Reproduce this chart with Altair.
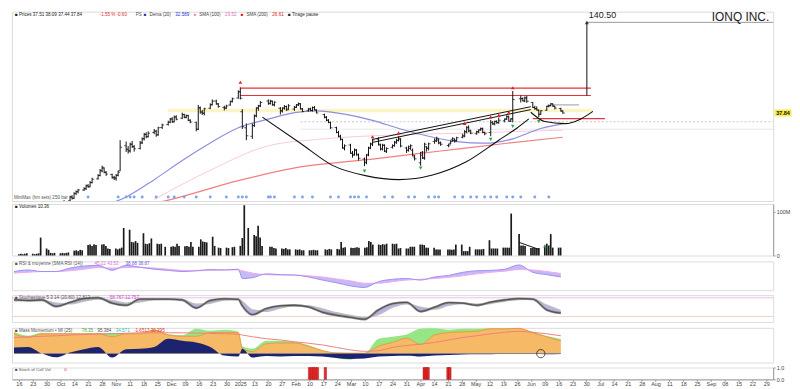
import altair as alt
import pandas as pd

# ---------------- data ----------------
HOLIDAYS = ["2024-11-28", "2024-12-25", "2025-01-01", "2025-01-09", "2025-01-20",
            "2025-02-17", "2025-04-18", "2025-05-26"]

OPEN = [7.6,7.9,8.0,7.8,8.2, 8.1,8.3,8.6,8.5,8.9, 8.7,8.7,8.4,8.5,8.8, 9.1,9.3,9.6,9.9,10.1,
        10.6,11.2,11.0,11.8,12.1, 12.4,12.6,13.2,13.0,13.8, 14.6,15.3,16.4,17.0,16.0,
        15.5,14.9,14.8,15.4,16.4, 23.5,22.3,21.9,24.0,23.2, 22.6,24.5,26.0,27.7,26.9,
        28.5,29.0,27.6,30.6, 32.0,33.2,34.6,33.3,35.6, 35.0,37.0,35.6,36.4,34.0,
        33.0,30.0,40.5,38.0,37.5, 40.5,42.8,45.0,43.0, 41.0,40.8,42.5,44.8, 47.0,51.5,38.5,30.5,
        27.0,31.5,36.5,40.8,42.0, 45.0,43.5,44.8,42.5, 40.5,39.2,40.5,41.6,40.0,
        40.0,41.2,42.5,43.0,40.0, 39.0,40.0,39.2,41.0,39.6, 37.0,35.6,34.0,33.0,
        30.6,28.5,27.0,25.8,22.8, 23.8,21.0,20.8,22.0,20.6, 19.4,18.6,20.8,22.8,24.0,
        25.8,23.8,22.4,23.6,21.6, 23.0,23.6,24.6,25.4,25.8, 22.8,22.0,22.6,22.0,20.0,
        18.4,21.4,19.6,23.2,22.6, 25.0,25.2,25.6,24.6, 23.6,24.4,25.8,25.4,25.4,
        26.6,27.0,28.8,30.8,29.4, 28.0,28.8,29.6,30.2,28.6, 28.5,33.0,32.4,33.4,32.8,
        33.8,34.6,35.8,33.6,34.6, 46.5,46.6,45.0,47.2, 44.0,41.0,40.4,39.4,37.2,
        39.4,41.8,42.2,43.0,41.6, 40.4,38.8]
HIGH = [8.0,8.2,8.1,8.3,8.4, 8.5,8.8,8.8,9.1,9.3, 8.9,8.8,8.7,8.9,9.3, 9.5,9.8,10.0,10.3,10.7,
        11.4,11.5,12.0,12.3,12.6, 12.9,13.4,13.5,14.1,14.8, 15.6,16.8,17.6,17.2,16.3,
        15.7,15.2,15.6,16.4,25.5, 25.0,23.4,24.6,25.2,23.8, 25.2,26.5,28.3,28.6,29.0,
        30.0,29.6,31.0,32.4, 33.8,35.2,35.6,36.4,36.6, 38.0,37.4,37.0,36.8,34.5,
        33.4,42.5,41.5,39.5,40.8, 43.5,46.0,45.8,43.6, 42.0,42.6,45.2,47.2, 52.5,54.8,40.0,32.5,
        32.5,37.0,41.0,42.5,45.0, 46.0,45.8,45.2,44.8, 41.2,41.0,42.4,42.0,43.0,
        41.8,43.0,44.0,43.6,40.6, 40.6,40.8,41.5,41.8,39.8, 37.4,36.2,34.6,33.4,
        31.0,29.2,27.6,26.0,24.0, 24.2,21.8,22.6,22.4,21.0, 19.8,20.8,23.2,24.6,26.0,
        26.6,24.2,24.2,24.0,23.0, 24.0,25.2,26.0,27.0,26.2, 23.2,23.6,24.0,22.6,20.6,
        21.5,21.8,24.6,23.4,24.6, 26.2,26.8,26.0,25.0, 24.2,25.4,26.6,26.2,26.8,
        28.0,29.5,31.2,31.6,29.6, 29.2,29.8,30.6,30.6,28.8, 34.2,33.6,33.8,34.0,35.4,
        35.0,36.6,36.4,35.0,52.0, 48.7,47.4,48.0,48.4, 44.4,42.0,41.6,39.8,39.4,
        42.0,42.8,43.6,43.4,41.8, 40.8,39.2]
LOW = [7.5,7.7,7.7,7.7,7.9, 8.0,8.2,8.3,8.4,8.5, 8.5,8.3,8.2,8.4,8.7, 9.0,9.2,9.5,9.7,10.0,
       10.5,10.8,10.9,11.5,11.8, 12.2,12.4,12.8,12.9,13.6, 14.4,15.1,16.0,15.8,15.2,
       14.6,14.3,14.2,15.1,16.3, 21.5,21.0,21.3,22.8,21.6, 22.3,24.1,25.4,26.2,26.5,
       27.8,26.8,27.2,30.0, 31.5,32.6,32.8,33.0,34.0, 34.6,35.0,35.0,33.6,32.6,
       29.0,29.5,37.5,36.8,36.5, 40.0,42.2,42.6,40.8, 39.2,40.0,42.0,44.0, 46.5,46.0,30.0,25.5,
       26.0,30.8,35.5,39.0,41.2, 42.6,42.8,42.0,41.6, 37.0,38.0,39.6,39.0,39.5,
       39.0,40.6,41.8,39.8,38.2, 38.5,38.8,38.6,39.4,37.6, 35.0,33.6,32.6,30.0,
       28.2,26.6,25.4,22.5,22.0, 21.0,19.8,20.4,20.4,19.0, 17.5,18.0,20.2,22.4,23.4,
       23.6,22.0,22.0,21.5,21.2, 22.6,23.2,24.2,25.0,23.0, 21.2,21.6,22.2,20.2,19.0,
       17.6,19.4,19.2,21.6,22.0, 24.2,24.8,24.0,23.5, 23.0,24.0,25.0,24.6,25.0,
       26.2,26.6,28.2,28.6,27.8, 27.6,28.2,29.2,28.2,27.4, 27.0,31.8,31.6,32.4,32.4,
       33.0,34.2,33.4,33.2,33.0, 44.0,44.8,44.2,43.8, 40.6,39.6,39.2,35.6,36.8,
       39.0,41.0,41.6,41.4,39.8, 38.6,37.4]
CLOSE = [7.9,8.0,7.8,8.2,8.1, 8.3,8.6,8.5,8.9,8.7, 8.7,8.4,8.5,8.8,9.1, 9.3,9.6,9.9,10.1,10.5,
         11.2,11.0,11.8,12.1,12.4, 12.6,13.2,13.0,13.8,14.5, 15.3,16.4,17.2,16.0,15.6,
         14.8,14.6,15.3,16.0,23.0, 22.4,21.8,24.0,23.2,22.5, 24.6,26.0,27.8,26.8,28.2,
         29.0,27.5,30.5,31.8, 33.0,34.6,33.2,35.8,34.5, 37.0,35.5,36.5,34.0,33.2,
         29.8,41.0,38.5,37.8,40.2, 42.5,44.8,43.2,41.6, 40.5,41.8,44.5,46.5, 51.5,46.8,31.0,27.2,
         31.5,36.0,40.5,41.8,44.0, 43.2,45.0,42.8,44.2, 38.8,40.6,41.5,39.5,42.0,
         41.0,42.6,43.3,40.2,38.6, 40.0,39.2,41.0,39.5,37.8, 35.5,34.0,33.0,30.5,
         28.5,27.0,25.8,22.8,23.5, 21.2,20.5,22.2,20.8,19.6, 18.4,20.5,22.8,24.2,25.6,
         24.0,22.5,23.8,21.8,22.6, 23.5,24.8,25.5,26.2,23.4, 22.0,23.2,23.5,20.5,19.5,
         20.5,19.8,24.0,22.8,24.2, 25.5,26.2,24.5,24.0, 23.8,25.0,26.0,25.2,26.4,
         27.2,28.8,30.5,29.0,28.2, 28.8,29.5,30.0,28.5,28.0, 33.0,32.2,33.5,32.8,34.0,
         34.5,35.8,33.5,34.8,46.0, 46.5,45.2,47.0,44.8, 41.0,40.2,39.5,37.0,39.0,
         41.5,42.0,43.2,42.0,40.6, 39.0,37.84]
VOLUME_M = [3,4,3,4,5, 4,3,4,5,41, 16,13,6,5,6, 5,6,5,6,7, 11,12,10,13,12, 24,25,22,26,24,
            25,26,22,16,15, 16,14,16,18,63, 59,31,30,33,29, 51,27,26,28,39, 27,26,27,20,
            20,21,20,27,22, 21,22,20,31,20, 20,37,32,31,30, 43,22,18,17, 18,17,19,20,
            22,40,115,63, 47,44,68,41,22, 20,20,17,16, 16,15,17,14,14, 14,13,14,12,12,
            12,12,13,12,12, 14,13,15,14, 15,14,31,18,19, 18,17,18,19,18, 18,19,33,31,25,
            25,24,26,25,27, 27,26,27,16,17, 16,16,20,20,20, 25,25,24,18,18, 18,14,14,14,
            14,14,13,14,25, 25,10,10,10,20, 14,14,14,14,15, 35,16,16,16,16, 18,18,18,18,96,
            49,23,23,22, 17,17,17,16,17, 23,27,23,49,18, 18,18]

# moving averages
BLUE_DATES = ["2024-10-28", "2024-11-11", "2024-11-25", "2024-12-09", "2024-12-23", "2025-01-06",
              "2025-01-21", "2025-02-03", "2025-02-14", "2025-02-28", "2025-03-14", "2025-03-28",
              "2025-04-11", "2025-04-25", "2025-05-09", "2025-05-23", "2025-06-06", "2025-06-17"]
BLUE_VALUES = [9.6, 11.2, 14.4, 19.0, 24.5, 30.5, 34.6, 38.0, 39.0, 37.2, 34.0, 30.0,
               27.0, 25.0, 24.4, 26.0, 30.2, 32.3]
RED_DATES = ["2024-11-18", "2024-12-02", "2025-01-06", "2025-02-06", "2025-03-14", "2025-04-17",
             "2025-05-20", "2025-06-17"]
RED_VALUES = [9.8, 10.7, 14.2, 17.3, 19.4, 21.8, 24.4, 26.6]
PINK_DATES = ["2024-11-25", "2024-12-23", "2025-01-21", "2025-02-18", "2025-03-24", "2025-04-28",
              "2025-06-17"]
PINK_VALUES = [10.8, 16.5, 23.5, 26.0, 27.5, 28.2, 29.5]

# drawings on the price panel
CUP_DATES = ["2025-01-18", "2025-02-06", "2025-02-22", "2025-03-11", "2025-03-27", "2025-04-13",
             "2025-04-30", "2025-05-16", "2025-05-25", "2025-05-31"]
CUP_PRICES = [35.6, 24.4, 17.7, 15.2, 14.4, 15.4, 18.7, 25.5, 30.3, 34.7]
ARC_DATES = ["2025-06-01", "2025-06-08", "2025-06-18", "2025-06-26", "2025-07-02"]
ARC_PRICES = [38.2, 33.4, 32.4, 34.7, 38.7]
CHANNEL_DATES = ["2025-03-14", "2025-06-01"]
CHANNEL_LOW = [24.7, 39.7]
CHANNEL_HIGH = [25.8, 41.4]
LEVEL_START = ["2025-01-07", "2025-01-07", "2025-06-02", "2025-06-12"]
LEVEL_END = ["2025-07-01", "2025-07-01", "2025-07-08", "2025-06-25"]
LEVEL_PRICE = [54.2, 48.7, 34.8, 42.5]
LEVEL_KIND = ["red", "red", "red", "grey"]
YELLOW_ZONE = ["2024-12-02", "2025-07-02", 39.2]
TARGET_DATE = "2025-06-29"
TARGET_FROM = 48.7
TARGET_PRICE = 140.50

UP_DATES = ["2025-01-07", "2025-03-14", "2025-03-27", "2025-04-29", "2025-05-12", "2025-05-16",
            "2025-05-21", "2025-05-23"]
UP_PRICES = [59.0, 26.8, 28.3, 32.5, 35.7, 36.7, 38.2, 54.5]
DOWN_DATES = ["2025-03-10", "2025-04-07", "2025-05-12", "2025-05-23", "2025-06-05"]
DOWN_PRICES = [16.3, 17.0, 25.8, 31.1, 33.4]
DOT_DATES = ["2024-10-23", "2024-11-07", "2024-11-11", "2024-11-13", "2024-11-15", "2024-11-19",
             "2024-11-26", "2024-12-02", "2024-12-05", "2024-12-10", "2024-12-16", "2024-12-23",
             "2024-12-31", "2025-01-06", "2025-01-08", "2025-01-10", "2025-01-21", "2025-01-22",
             "2025-01-24", "2025-02-03", "2025-02-07", "2025-02-12", "2025-02-21", "2025-02-25",
             "2025-03-03", "2025-03-05", "2025-03-07", "2025-03-11", "2025-03-20", "2025-03-24",
             "2025-04-01", "2025-04-04", "2025-04-11", "2025-04-14", "2025-04-16", "2025-04-24",
             "2025-04-28", "2025-05-02", "2025-05-05", "2025-05-09", "2025-05-12", "2025-05-15",
             "2025-05-20", "2025-05-23", "2025-05-27", "2025-06-03", "2025-06-10"]

# indicators sampled weekly (Mondays) plus 2025-01-08
RSI = [66, 70, 66, 66, 75, 80, 82, 69, 82, 77, 72, 69, 66, 68, 71, 70, 72, 48, 50, 60, 58, 57,
       52, 44, 37, 29, 25, 40, 46, 48, 44, 52, 56, 64, 68, 69, 72, 83, 64, 58, 52]
RSI_SIGNAL = [62, 64, 66, 66, 68, 72, 76, 75, 76, 77, 75, 72, 69, 68, 69, 70, 70, 68, 62, 58, 57,
              57, 55, 52, 47, 42, 36, 36, 40, 44, 46, 48, 51, 55, 60, 64, 67, 71, 70, 66, 61]
STOCH_K = [83, 80, 82, 58, 73, 87, 90, 70, 62, 85, 85, 85, 82, 52, 80, 86, 84, 60, 27, 50, 60,
           62, 56, 36, 25, 17, 10, 45, 68, 73, 39, 55, 72, 70, 62, 74, 82, 87, 85, 45, 33]
STOCH_D = [78, 81, 81, 70, 68, 78, 86, 80, 70, 75, 84, 85, 84, 66, 70, 82, 85, 76, 45, 40, 52,
           60, 59, 48, 34, 24, 16, 28, 55, 68, 55, 48, 62, 70, 66, 69, 78, 84, 86, 62, 42]
MASS_ORANGE = [80, 65, 80, 80, 80, 80, 80, 68, 80, 80, 95, 75, 70, 70, 85, 85, 85, 20, 8, 40,
               43, 43, 30, 12, 3, 2, 2, 30, 45, 62, 37, 75, 85, 88, 90, 100, 100, 102, 84, 68, 52]
MASS_GREEN = [88, 72, 84, 82, 82, 82, 82, 84, 82, 82, 97, 78, 74, 100, 92, 96, 88, 30, 20, 52,
              52, 48, 34, 14, 3, 2, 2, 60, 68, 77, 100, 102, 96, 100, 100, 102, 102, 102, 88, 71, 59]
MASS_GREEN_NEG = [0, 0, 0, 0, 0, 0, 0, 0, 0, 0, 0, 0, 0, 0, 0, 0, 0, 0, 0, 0, 0, 0, 0, 0,
                  -18, -25, 0, 0, 0, 0, 0, 0, 0, 0, 0, 0, 0, 0, 0, 0, 0]
MASS_NAVY = [25, 27, 0, -15, 5, 18, 27, -16, 18, 20, 27, 60, 52, 45, 27, -8, -12, 20, -16, -10,
             -12, -10, -10, -12, -18, -22, -20, -12, -10, -9, -12, -8, -6, -4, -3, -3, -2, -2,
             -2, -3, -2]
MASS_RED = [65, 68, 70, 72, 75, 77, 79, 80, 82, 84, 84, 84, 84, 83, 82, 80, 78, 75, 68, 60, 55,
            48, 42, 35, 25, 15, 9, 12, 25, 33, 38, 45, 55, 65, 72, 80, 86, 90, 86, 80, 72]
SIGNAL_DATES = ["2025-02-10", "2025-02-11", "2025-02-12", "2025-02-13", "2025-02-14",
                "2025-02-18", "2025-04-09", "2025-04-10", "2025-04-11", "2025-04-21", "2025-04-22"]

# header texts (text, colour)
PRICE_HEADER = [("■ Prices 37.51 38.09 37.44 37.84", "#222"), ("-1.55 % -0.60", "#e03030"),
                ("PS", "#555"), ("■", "#2233aa"), ("Dema (20)", "#444"), ("32.589", "#2233cc"),
                ("■", "#f08ccf"), ("SMA (100)", "#444"), ("29.52", "#e070c0"),
                ("■", "#e02020"), ("SMA (200)", "#444"), ("26.61", "#e02020"),
                ("■ Tirage pause", "#222")]
VOL_HEADER = [("■ Volumes 10.36", "#222")]
RSI_HEADER = [("■ RSI & moyenne (SMA RSI (14))", "#555"), ("45.22 43.53", "#e070d0"),
              ("38.88 38.87", "#6a5ae0")]
STO_HEADER = [("■ Stochastique 5 3 14 (20,80) 12.813", "#555"), ("58.767 12.757", "#c050c0")]
MASS_HEADER = [("■ Mass Momentum • MI (25)", "#555"), ("78.35", "#3aa83a"), ("95.384", "#555"),
               ("34.571", "#30c0c0"), ("-1.6517 30.395", "#e03030")]
SIG_HEADER = [("■ Stoch of Coll Vol", "#555"), ("0", "#e03030")]

# ---------------- frames ----------------
trading = [d for d in pd.bdate_range("2024-09-16", "2025-06-17")
           if d.strftime("%Y-%m-%d") not in HOLIDAYS]
n = min(len(trading), len(OPEN), len(HIGH), len(LOW), len(CLOSE), len(VOLUME_M))
bars = pd.DataFrame({"date": trading[:n], "open": OPEN[:n], "high": HIGH[:n], "low": LOW[:n],
                     "close": CLOSE[:n], "volume": VOLUME_M[:n]})

mondays = list(pd.date_range("2024-09-16", periods=40, freq="7D"))
ind_dates = mondays[:17] + [pd.Timestamp("2025-01-08")] + mondays[17:]
m = min(len(ind_dates), len(RSI))
ind = pd.DataFrame({"date": ind_dates[:m], "rsi": RSI[:m], "rsig": RSI_SIGNAL[:m],
                    "k": STOCH_K[:m], "d": STOCH_D[:m], "orange": MASS_ORANGE[:m],
                    "green": MASS_GREEN[:m], "gneg": MASS_GREEN_NEG[:m], "navy": MASS_NAVY[:m],
                    "red": MASS_RED[:m]})


def series(dates, values):
    return pd.DataFrame({"date": pd.to_datetime(dates), "v": values})


W = 768
H_PRICE, H_VOL, H_RSI, H_STO, H_MASS, H_SIG = 191, 52, 29, 27, 35, 12
FONT = "Liberation Sans"
XS = alt.Scale(domain=[alt.DateTime(year=2024, month=9, date=15),
                       alt.DateTime(year=2025, month=9, date=30)])
YP = alt.Scale(type="log", domain=[10.57, 164.0], nice=False, zero=False)


def xenc(field="date"):
    return alt.X(f"{field}:T", scale=XS, axis=None, title=None)


def raxis(values, expr=None):
    kw = dict(orient="right", values=values, labelFontSize=5.5, tickSize=2, labelPadding=1,
              title=None, domainColor="#9a9a9a", tickColor="#9a9a9a", labelColor="#444",
              grid=False, labelFont=FONT)
    if expr:
        kw["labelExpr"] = expr
    return alt.Axis(**kw)


def label(txt, px, py, color="#333", size=5.5, align="left", weight="normal", baseline="middle"):
    return alt.Chart(pd.DataFrame({"t": [txt]})).mark_text(
        align=align, baseline=baseline, fontSize=size, color=color, font=FONT, fontWeight=weight
    ).encode(x=alt.value(px), y=alt.value(py), text="t:N")


def header(pieces, py, size=4.6, start=3):
    out, px = [], start
    for txt, col in pieces:
        out.append(label(txt, px, py, col, size))
        px += len(txt) * size * 0.56 + 3
    return out


# ---------------- price panel ----------------
hl = alt.Chart(bars).mark_rule(color="#111", strokeWidth=1, clip=True).encode(
    x=xenc(), y=alt.Y("low:Q", scale=YP, axis=raxis([15, 20, 25, 30, 40, 50, 60, 80, 100, 120, 150])),
    y2="high:Q")
otick = alt.Chart(bars).mark_tick(orient="horizontal", size=2, thickness=1, color="#111",
                                  xOffset=-1, clip=True).encode(
    x=xenc(), y=alt.Y("open:Q", scale=YP, axis=None))
ctick = alt.Chart(bars).mark_tick(orient="horizontal", size=2, thickness=1, color="#111",
                                  xOffset=1, clip=True).encode(
    x=xenc(), y=alt.Y("close:Q", scale=YP, axis=None))


def pline(df, color, width=1, opacity=1.0, interp="monotone"):
    return alt.Chart(df).mark_line(color=color, strokeWidth=width, opacity=opacity, clip=True,
                                   interpolate=interp).encode(
        x=xenc(), y=alt.Y("v:Q", scale=YP, axis=None))


levels = pd.DataFrame({"d1": pd.to_datetime(LEVEL_START), "d2": pd.to_datetime(LEVEL_END),
                       "p": LEVEL_PRICE, "kind": LEVEL_KIND})
lev_color = alt.Color("kind:N", scale=alt.Scale(domain=["red", "grey"],
                                                range=["#e8323c", "#b0b0b0"]), legend=None)
lev = alt.Chart(levels).mark_rule(strokeWidth=1.2, clip=True).encode(
    x=xenc("d1"), x2="d2:T", y=alt.Y("p:Q", scale=YP, axis=None), color=lev_color)

yellow = alt.Chart(pd.DataFrame({"d1": [pd.Timestamp(YELLOW_ZONE[0])],
                                 "d2": [pd.Timestamp(YELLOW_ZONE[1])],
                                 "p": [YELLOW_ZONE[2]]})).mark_rule(
    color="#fcf4c2", strokeWidth=3.5, clip=True).encode(
    x=xenc("d1"), x2="d2:T", y=alt.Y("p:Q", scale=YP, axis=None))

flat = pd.DataFrame({"d1": pd.to_datetime(["2025-02-06", "2025-02-06"]),
                     "d2": pd.to_datetime(["2025-09-30", "2025-09-30"]),
                     "p": [33.3, 29.9], "kind": ["dot", "faint"]})
dotted = alt.Chart(flat[flat.kind == "dot"]).mark_rule(
    color="#c8c8c8", strokeWidth=1, strokeDash=[2, 2], clip=True).encode(
    x=xenc("d1"), x2="d2:T", y=alt.Y("p:Q", scale=YP, axis=None))
faint = alt.Chart(flat[flat.kind == "faint"]).mark_rule(
    color="#e6e6e6", strokeWidth=1, clip=True).encode(
    x=xenc("d1"), x2="d2:T", y=alt.Y("p:Q", scale=YP, axis=None))

target_df = pd.DataFrame({"date": [pd.Timestamp(TARGET_DATE)], "p1": [TARGET_FROM],
                          "p2": [TARGET_PRICE], "end": [pd.Timestamp("2025-09-30")],
                          "t": [f"{TARGET_PRICE:.2f}"]})
target_v = alt.Chart(target_df).mark_rule(color="#111", strokeWidth=1).encode(
    x=xenc(), y=alt.Y("p1:Q", scale=YP, axis=None), y2="p2:Q")
target_h = alt.Chart(target_df).mark_rule(color="#9a9a9a", strokeWidth=1).encode(
    x=xenc(), x2="end:T", y=alt.Y("p2:Q", scale=YP, axis=None))
target_head = alt.Chart(target_df).mark_point(shape="triangle-up", filled=True, size=18,
                                               color="#111").encode(
    x=xenc(), y=alt.Y("p2:Q", scale=YP, axis=None))
target_txt = alt.Chart(target_df).mark_text(align="left", baseline="bottom", dx=2, dy=-2,
                                            fontSize=9, font=FONT, color="#222").encode(
    x=xenc(), y=alt.Y("p2:Q", scale=YP, axis=None), text="t:N")

ups = alt.Chart(series(UP_DATES, UP_PRICES)).mark_point(
    shape="triangle-up", filled=True, size=14, color="#e32020", opacity=1).encode(
    x=xenc(), y=alt.Y("v:Q", scale=YP, axis=None))
downs = alt.Chart(series(DOWN_DATES, DOWN_PRICES)).mark_point(
    shape="triangle-down", filled=True, size=14, color="#2fa84f", opacity=1).encode(
    x=xenc(), y=alt.Y("v:Q", scale=YP, axis=None))
dots = alt.Chart(pd.DataFrame({"date": pd.to_datetime(DOT_DATES)})).mark_circle(
    size=9, color="#7ea6e6", opacity=1).encode(x=xenc(), y=alt.value(H_PRICE - 4))

last_box = alt.Chart(pd.DataFrame({"p": [CLOSE[-1]], "t": [f"{CLOSE[-1]:.2f}"]}))
last_bg = last_box.mark_tick(orient="horizontal", size=17, thickness=7, color="#f7e300").encode(
    x=alt.value(W + 10), y=alt.Y("p:Q", scale=YP, axis=None))
last_txt = last_box.mark_text(fontSize=5.5, font=FONT, fontWeight="bold", color="#111").encode(
    x=alt.value(W + 10), y=alt.Y("p:Q", scale=YP, axis=None), text="t:N")

price = alt.layer(
    faint, dotted, yellow,
    pline(series(PINK_DATES, PINK_VALUES), "#f3a6c8", 1, 0.6),
    pline(series(RED_DATES, RED_VALUES), "#f07f7f", 1.2),
    pline(series(BLUE_DATES, BLUE_VALUES), "#8c8ee0", 1.2),
    lev, target_h, target_v, target_head, target_txt,
    pline(series(CUP_DATES, CUP_PRICES), "#111", 1.1),
    pline(series(ARC_DATES, ARC_PRICES), "#111", 1.1),
    pline(series(CHANNEL_DATES, CHANNEL_LOW), "#111", 1, interp="linear"),
    pline(series(CHANNEL_DATES, CHANNEL_HIGH), "#111", 1, interp="linear"),
    hl, otick, ctick, ups, downs, dots, last_bg, last_txt,
    *header(PRICE_HEADER, 3),
    label("IONQ INC.", W - 4, 0, "#222", 12, "right", baseline="top"),
    label("MiniMax (hm sets) 250 bar", 2, H_PRICE - 3, "#555", 4.6),
).properties(width=W, height=H_PRICE)

# ---------------- volume panel ----------------
vol_line = series(["2025-05-27", "2025-06-06"], [30, 14])
volume = alt.layer(
    alt.Chart(bars).mark_bar(color="#1b1b1b", width=1.7).encode(
        x=xenc(), y=alt.Y("volume:Q", scale=alt.Scale(domain=[0, 118], nice=False),
                          axis=raxis([0, 20, 40, 60, 80, 100],
                                     "datum.value == 0 ? '0' : datum.value + 'M'"))),
    alt.Chart(vol_line).mark_line(color="#111", strokeWidth=1).encode(x=xenc(), y="v:Q"),
    alt.Chart(series(["2025-06-09"], [22])).mark_point(shape="triangle-up", filled=True, size=14,
                                                       color="#2fbf4f").encode(x=xenc(), y="v:Q"),
    *header(VOL_HEADER, 3),
).properties(width=W, height=H_VOL)

# ---------------- RSI panel ----------------
RS = alt.Scale(domain=[18, 92], nice=False)
rsi = alt.layer(
    alt.Chart(ind).mark_area(color="#9b8cf0", opacity=0.6, interpolate="monotone").encode(
        x=xenc(), y=alt.Y("rsi:Q", scale=RS, axis=raxis([30, 50, 70])), y2="rsig:Q"),
    alt.Chart(ind).mark_line(color="#f2a8f0", strokeWidth=1, interpolate="monotone").encode(
        x=xenc(), y=alt.Y("rsig:Q", scale=RS, axis=None)),
    alt.Chart(ind).mark_line(color="#a08ff0", strokeWidth=1, interpolate="monotone").encode(
        x=xenc(), y=alt.Y("rsi:Q", scale=RS, axis=None)),
    *header(RSI_HEADER, 3),
).properties(width=W, height=H_RSI)

# ---------------- stochastic panel ----------------
SS = alt.Scale(domain=[0, 100], nice=False)
stoch = alt.layer(
    alt.Chart(pd.DataFrame({"v": [90]})).mark_rule(color="#f4b8ef", strokeWidth=1).encode(
        y=alt.Y("v:Q", scale=SS, axis=None)),
    alt.Chart(pd.DataFrame({"v": [20]})).mark_rule(color="#f4d0d0", strokeWidth=1).encode(
        y=alt.Y("v:Q", scale=SS, axis=None)),
    alt.Chart(ind).mark_area(color="#8c7ae6", opacity=0.6, interpolate="monotone").encode(
        x=xenc(), y=alt.Y("k:Q", scale=SS, axis=raxis([20, 50, 80])), y2="d:Q"),
    alt.Chart(ind).mark_line(color="#bdbdbd", strokeWidth=1.5, interpolate="monotone").encode(
        x=xenc(), y=alt.Y("d:Q", scale=SS, axis=None)),
    alt.Chart(ind).mark_line(color="#8a8a8a", strokeWidth=2.4, interpolate="monotone").encode(
        x=xenc(), y=alt.Y("k:Q", scale=SS, axis=None)),
    alt.Chart(ind).mark_line(color="#333", strokeWidth=0.7, interpolate="monotone").encode(
        x=xenc(), y=alt.Y("k:Q", scale=SS, axis=None)),
    *header(STO_HEADER, 3),
).properties(width=W, height=H_STO)

# ---------------- mass panel ----------------
MS = alt.Scale(domain=[-36, 104], nice=False)
mass = alt.layer(
    alt.Chart(ind).mark_area(color="#f6b965", interpolate="monotone").encode(
        x=xenc(), y=alt.Y("orange:Q", scale=MS, axis=raxis([0, 50, 100])), y2=alt.datum(0)),
    alt.Chart(ind).mark_area(color="#97e686", interpolate="monotone").encode(
        x=xenc(), y=alt.Y("green:Q", scale=MS, axis=None), y2="orange:Q"),
    alt.Chart(ind).mark_area(color="#97e686", interpolate="monotone").encode(
        x=xenc(), y=alt.Y("gneg:Q", scale=MS, axis=None), y2=alt.datum(0)),
    alt.Chart(ind).mark_line(color="#e8892a", strokeWidth=0.8, interpolate="monotone").encode(
        x=xenc(), y=alt.Y("orange:Q", scale=MS, axis=None)),
    alt.Chart(ind).mark_area(color="#1c2470", interpolate="monotone").encode(
        x=xenc(), y=alt.Y("navy:Q", scale=MS, axis=None), y2=alt.datum(0)),
    alt.Chart(ind).mark_line(color="#f08080", strokeWidth=1, interpolate="monotone").encode(
        x=xenc(), y=alt.Y("red:Q", scale=MS, axis=None)),
    alt.Chart(series(["2025-06-06"], [0])).mark_point(shape="circle", filled=False, size=70,
                                                      color="#111", strokeWidth=1).encode(
        x=xenc(), y=alt.Y("v:Q", scale=MS, axis=None)),
    *header(MASS_HEADER, 3),
).properties(width=W, height=H_MASS)

# ---------------- signal panel ----------------
MON_ALL = pd.date_range("2024-09-16", "2025-09-29", freq="7D")
xaxis = alt.Axis(
    values=[alt.DateTime(year=d.year, month=d.month, date=d.day) for d in MON_ALL],
    labelExpr=("date(datum.value) <= 7 ? (month(datum.value) == 0 ? "
               "timeFormat(datum.value, '%Y') : timeFormat(datum.value, '%b')) : "
               "timeFormat(datum.value, '%d')"),
    labelFontSize=5.5, tickSize=2, labelPadding=0, labelOverlap=False, title=None,
    domainColor="#9a9a9a", tickColor="#9a9a9a", labelColor="#444", grid=False, labelFont=FONT)
sig_df = pd.DataFrame({"date": pd.to_datetime(SIGNAL_DATES), "v": [1] * len(SIGNAL_DATES)})
signal = alt.layer(
    alt.Chart(sig_df).mark_bar(color="#e52b2b", stroke="#9b0000", strokeWidth=0.4, width=2.4).encode(
        x=alt.X("date:T", scale=XS, axis=xaxis),
        y=alt.Y("v:Q", scale=alt.Scale(domain=[0, 1], nice=False), axis=raxis([0, 1]))),
    *header(SIG_HEADER, 3, 4.4),
).properties(width=W, height=H_SIG)

chart = alt.vconcat(price, volume, rsi, stoch, mass, signal, spacing=1).properties(
    padding={"left": 0, "top": 0, "right": 0, "bottom": 0}
).configure_view(stroke="#dcdcdc").configure_axis(grid=False)

chart.save("out.html", embed_options={"renderer": "svg", "actions": False})
